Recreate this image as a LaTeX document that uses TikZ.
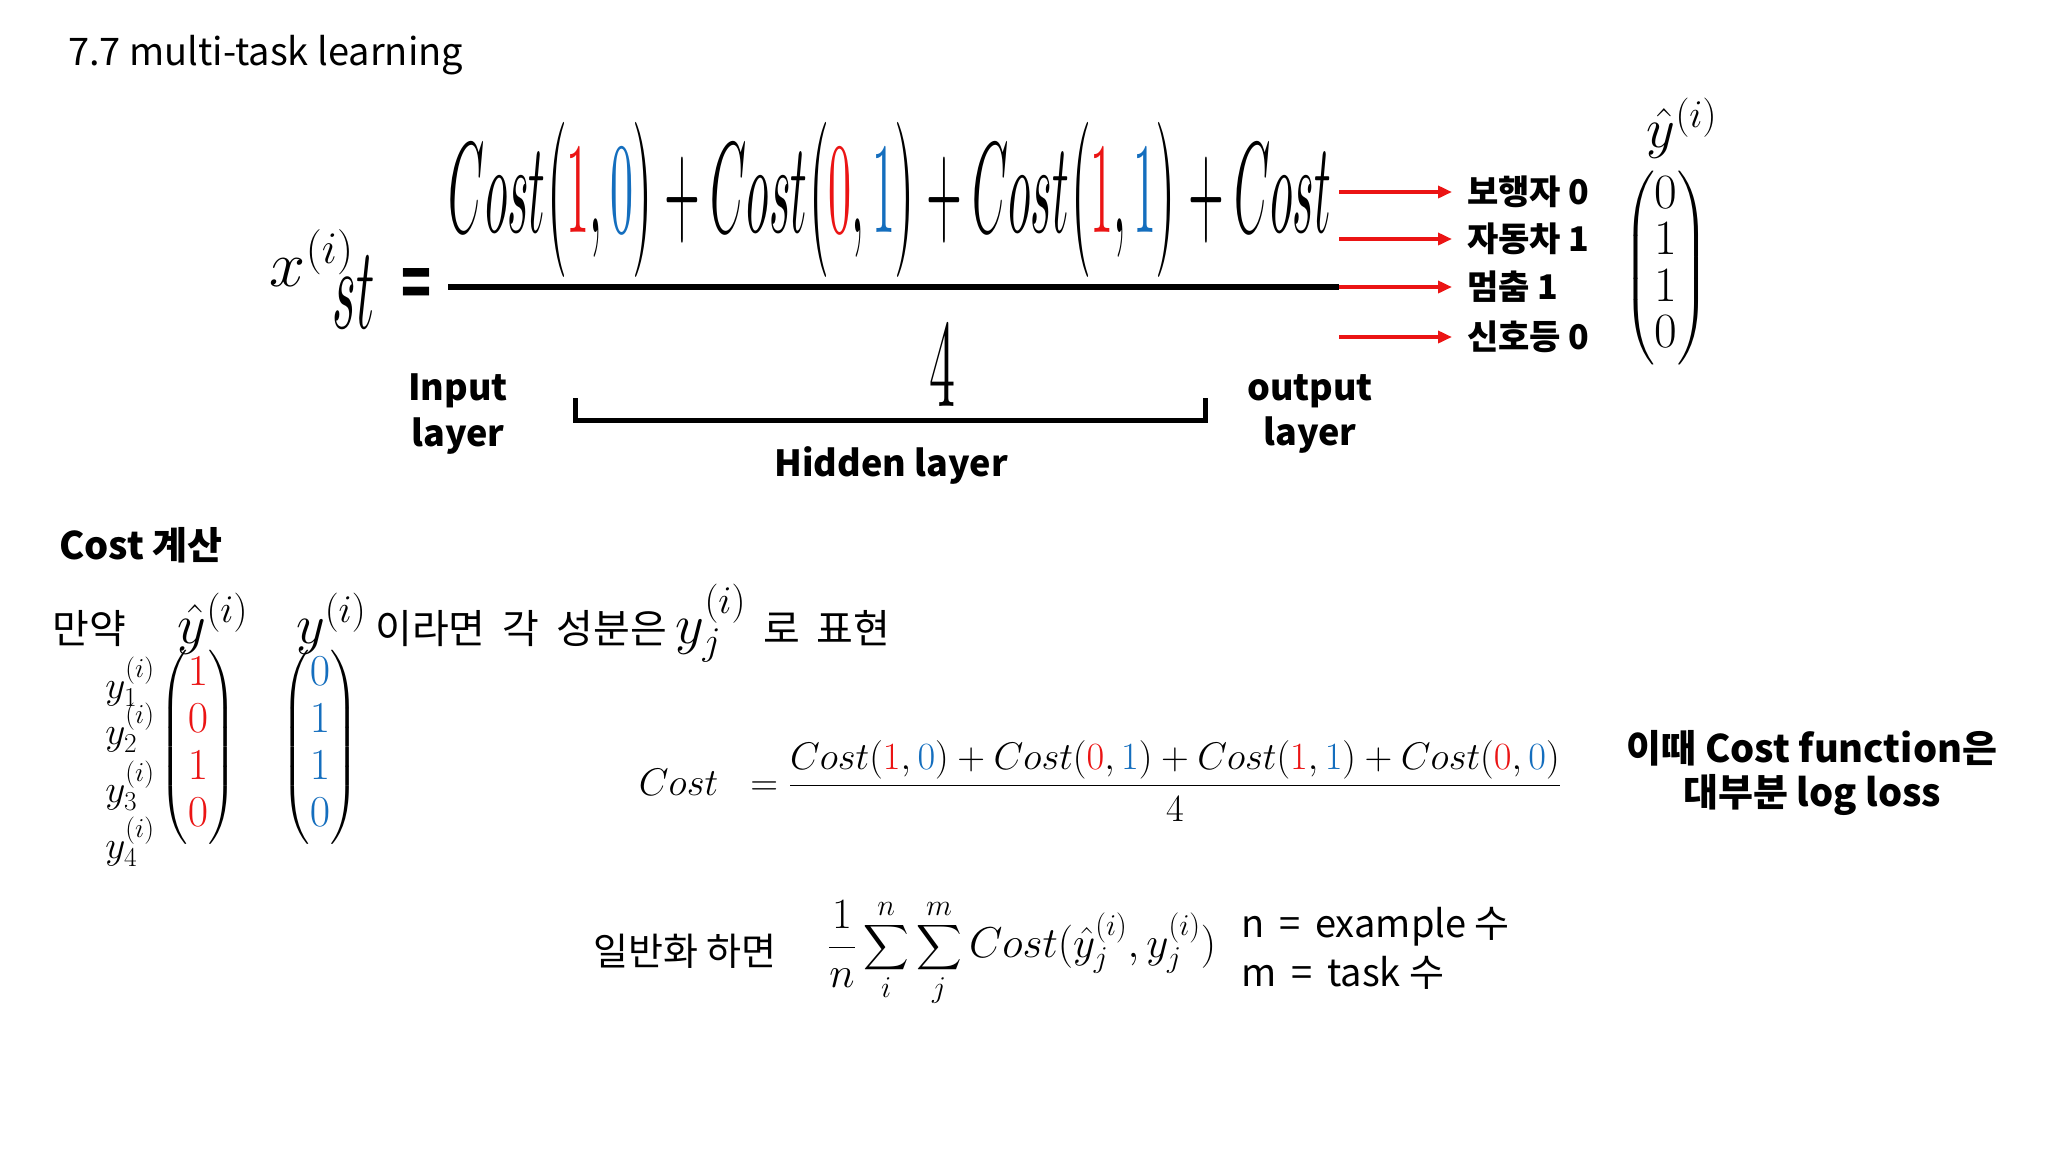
\RequirePackage{fix-cm}
\documentclass[tikz,border=0pt]{standalone}
\usepackage{amsmath}
\usepackage{fontspec}
\usepackage{graphicx}
\setmainfont{Noto Sans CJK KR}
\usetikzlibrary{arrows.meta}
\definecolor{rd}{RGB}{235,20,20}
\definecolor{bl}{RGB}{20,110,190}
\newcommand{\fs}[1]{\fontsize{#1}{#1}\selectfont}
\newcommand{\mb}[1]{\scalebox{1.4}{$#1$}}
\newcommand{\ms}[2]{\scalebox{#1}{$#2$}}
\tikzset{
  lbl/.style={inner sep=0pt, font=\fs{34}\bfseries},
  txt/.style={inner sep=0pt, font=\fs{38}},
  mth/.style={inner sep=0pt, font=\fs{34}},
  redarr/.style={draw=rd, line width=3.5pt, -{Triangle[length=14pt,width=12pt]}},
}
\begin{document}
\begin{tikzpicture}[x=1pt,y=-1pt]
\useasboundingbox[fill=white] (0,0) rectangle (2048,1152);
\node[txt, anchor=west, font=\fs{38}] (title) at (68,55) {7.7 multi-task learning};
% big formula
\node[inner sep=0pt] (num) at (890,200) {\resizebox{882pt}{110pt}{$Cost\big(\textcolor{rd}{1},\textcolor{bl}{0}\big)+Cost\big(\textcolor{rd}{0},\textcolor{bl}{1}\big)+Cost\big(\textcolor{rd}{1},\textcolor{bl}{1}\big)+Cost$}};
\node[inner sep=0pt] (st) at (354,292) {\resizebox{42pt}{72pt}{$st$}};
\node[mth] (x) at (312,258) {\ms{1.9}{x^{(i)}}};
\node[inner sep=0pt, font=\bfseries] (eq) at (416,288) {\resizebox{30pt}{40pt}{=}};
\coordinate (fl) at (448,287); \coordinate (fr) at (1339,287);
\draw[line width=6pt] (fl) -- (fr);
\node[inner sep=0pt] (four) at (942,366) {\resizebox{26pt}{80pt}{$4$}};
% arrows
\foreach \y/\t [count=\k] in {192/보행자 0,239/자동차 1,287/멈춤 1,337/신호등 0}{
  \coordinate (s\k) at (1339,\y);
  \node[lbl, anchor=west] (l\k) at (1467,\y) {\t};
  \draw[redarr] (s\k) -- (l\k.west -| 1452,0);
}
\node[mth] (yh) at (1682,128) {\ms{1.65}{\hat{y}^{(i)}}};
\node[mth] (vec) at (1666,268) {\ms{1.45}{\begin{pmatrix}0\\[-2pt]1\\[-2pt]1\\[-2pt]0\end{pmatrix}}};
% layers
\node[lbl, align=center, font=\fs{36}\bfseries] (inp) at (458,414) {Input\\[8pt]layer};
\node[lbl, align=center, font=\fs{36}\bfseries] (outp) at (1310,414) {output\\[8pt]layer};
\node[lbl, font=\fs{36}\bfseries] (hid) at (891,465) {Hidden layer};
\coordinate (b1) at (575,398); \coordinate (b2) at (1205,398);
\draw[line width=5pt] (b1) -- (575,420) -- (1205,420) -- (b2);
% Cost section
\node[lbl, anchor=west, font=\fs{38}\bfseries] (cc) at (59,545) {Cost 계산};
\node[txt, anchor=base west, font=\fs{40}] (ifl) at (52,643) {만약\hspace{52pt}\mb{\hat{y}^{(i)}}\hspace{48pt}\mb{y^{(i)}} 이라면\hspace{8pt} 각\hspace{8pt} 성분은 \mb{y_j^{(i)}}\hspace{8pt} 로\hspace{8pt} 표현};
\foreach \y/\j in {682/1,728/2,786/3,842/4}{
  \node[mth] (yl\j) at (130,\y) {\ms{1.15}{y_{\j}^{(i)}}};
}
\node[mth] (rv) at (198,747) {\ms{1.3}{\begin{pmatrix}\textcolor{rd}{1}\\[2pt]\textcolor{rd}{0}\\[2pt]\textcolor{rd}{1}\\[2pt]\textcolor{rd}{0}\end{pmatrix}}};
\node[mth] (bv) at (320,747) {\ms{1.3}{\begin{pmatrix}\textcolor{bl}{0}\\[2pt]\textcolor{bl}{1}\\[2pt]\textcolor{bl}{1}\\[2pt]\textcolor{bl}{0}\end{pmatrix}}};
\node[mth, font=\fs{36}] (cf) at (1100,781) {\ms{1.07}{Cost\;\;=\dfrac{Cost(\textcolor{rd}{1},\textcolor{bl}{0})+Cost(\textcolor{rd}{0},\textcolor{bl}{1})+Cost(\textcolor{rd}{1},\textcolor{bl}{1})+Cost(\textcolor{rd}{0},\textcolor{bl}{0})}{4}}};
\node[lbl, align=center, font=\fs{38}\bfseries] (ll) at (1812,773) {이때 Cost function은\\[6pt]대부분 log loss};
\node[txt, font=\fs{38}] (gen) at (685,951) {일반화 하면};
\node[mth] (sum) at (1022,953) {\ms{1.27}{\dfrac{1}{n}\displaystyle\sum_{i}^{n}\sum_{j}^{m}Cost(\hat{y}_j^{(i)},y_j^{(i)})}};
\node[txt, anchor=west, font=\fs{38}] (nn) at (1241,927) {n \,=\, example 수};
\node[txt, anchor=west, font=\fs{38}] (mm) at (1241,973) {m \,=\, task 수};
\end{tikzpicture}
\end{document}
